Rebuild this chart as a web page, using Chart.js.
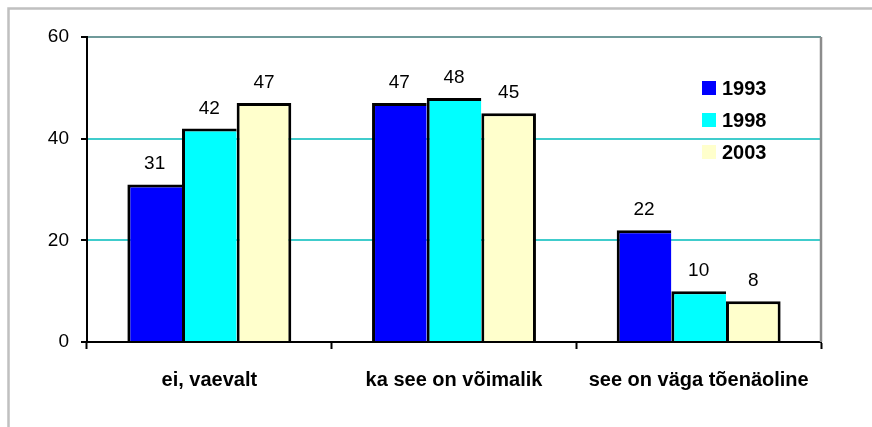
<!DOCTYPE html>
<html>
<head>
<meta charset="utf-8">
<script src="https://cdn.jsdelivr.net/npm/chart.js@4.4.1/dist/chart.umd.min.js"></script>
<style>
  html, body { margin: 0; padding: 0; background: #fff; }
  canvas { display: block; }
</style>
</head>
<body>
<canvas id="c" width="872" height="427"></canvas>
<script>
const categories = ['ei, vaevalt', 'ka see on võimalik', 'see on väga tõenäoline'];
const seriesNames = ['1993', '1998', '2003'];
const values1993 = [31, 47, 22];
const values1998 = [42, 48, 10];
const values2003 = [47, 45, 8];
const yTicks = [0, 20, 40, 60];
const colors = ['#0000ff', '#00ffff', '#ffffcc'];

const FONT = '"Liberation Sans", Arial, sans-serif';

const framePlugin = {
  id: 'frame',
  beforeDraw(chart) {
    const c = chart.ctx;
    c.save();
    c.fillStyle = '#fff';
    c.fillRect(0, 0, chart.width, chart.height);
    c.strokeStyle = '#c0c0c0';
    c.lineWidth = 2.5;
    c.beginPath();
    c.moveTo(8.5, chart.height + 2);
    c.lineTo(8.5, 8.5);
    c.lineTo(chart.width + 2, 8.5);
    c.stroke();
    c.restore();
  },
  afterDatasetsDraw(chart) {
    const c = chart.ctx;
    const a = chart.chartArea;
    c.save();
    // right plot border
    c.strokeStyle = '#8c8c8c';
    c.lineWidth = 2.5;
    c.beginPath();
    c.moveTo(a.right, a.top);
    c.lineTo(a.right, a.bottom);
    c.stroke();
    // value labels
    c.fillStyle = '#000';
    c.font = '19px ' + FONT;
    c.textAlign = 'center';
    c.textBaseline = 'alphabetic';
    chart.data.datasets.forEach((ds, i) => {
      const meta = chart.getDatasetMeta(i);
      meta.data.forEach((el, j) => {
        c.fillText(String(ds.data[j]), el.x, el.y - 15);
      });
    });
    // legend
    const lx = 702, ly0 = 88, step = 32;
    c.font = 'bold 20px ' + FONT;
    c.textAlign = 'left';
    c.textBaseline = 'middle';
    chart.data.datasets.forEach((ds, i) => {
      const cy = ly0 + i * step;
      c.fillStyle = ds.backgroundColor;
      c.fillRect(lx, cy - 7, 14, 14);
      c.fillStyle = '#000';
      c.fillText(ds.label, lx + 20, cy + 1);
    });
    c.restore();
  }
};

const mkBorder = (last) => ({ top: 3, left: 3, right: last ? 3 : 0, bottom: 0 });

new Chart(document.getElementById('c'), {
  type: 'bar',
  data: {
    labels: categories,
    datasets: [
      { label: seriesNames[0], data: values1993, backgroundColor: colors[0], borderColor: '#000', borderWidth: mkBorder(false), borderSkipped: false, inflateAmount: 0 },
      { label: seriesNames[1], data: values1998, backgroundColor: colors[1], borderColor: '#000', borderWidth: mkBorder(false), borderSkipped: false, inflateAmount: 0 },
      { label: seriesNames[2], data: values2003, backgroundColor: colors[2], borderColor: '#000', borderWidth: mkBorder(true), borderSkipped: false, inflateAmount: 0 }
    ]
  },
  options: {
    responsive: false,
    animation: false,
    devicePixelRatio: 1,
    layout: { padding: { top: 37, right: 51, left: 0, bottom: 0 } },
    plugins: { legend: { display: false }, tooltip: { enabled: false } },
    datasets: { bar: { categoryPercentage: 0.67, barPercentage: 1.0 } },
    scales: {
      x: {
        afterFit(s) { s.height = 85; },
        grid: { display: true, offset: true, drawOnChartArea: false, drawTicks: true, tickLength: 7, tickColor: '#000', tickWidth: 2 },
        border: { display: true, color: '#000', width: 2 },
        ticks: { color: '#000', font: { family: FONT, size: 20, weight: 'bold' }, padding: 19, maxRotation: 0, autoSkip: false }
      },
      y: {
        min: 0, max: 60,
        afterFit(s) { s.width = 87; },
        afterBuildTicks(s) { s.ticks = yTicks.map(v => ({ value: v })); },
        grid: {
          color: (ctx) => ctx.tick && ctx.tick.value === 60 ? '#6f9a9a' : (ctx.tick && ctx.tick.value === 0 ? 'rgba(0,0,0,0)' : '#40cccc'),
          lineWidth: 2,
          drawTicks: true, tickLength: 6, tickColor: '#000', tickWidth: 2
        },
        border: { display: true, color: '#000', width: 2 },
        ticks: { color: '#000', font: { family: FONT, size: 19 }, padding: 12 }
      }
    }
  },
  plugins: [framePlugin]
});
</script>
</body>
</html>
